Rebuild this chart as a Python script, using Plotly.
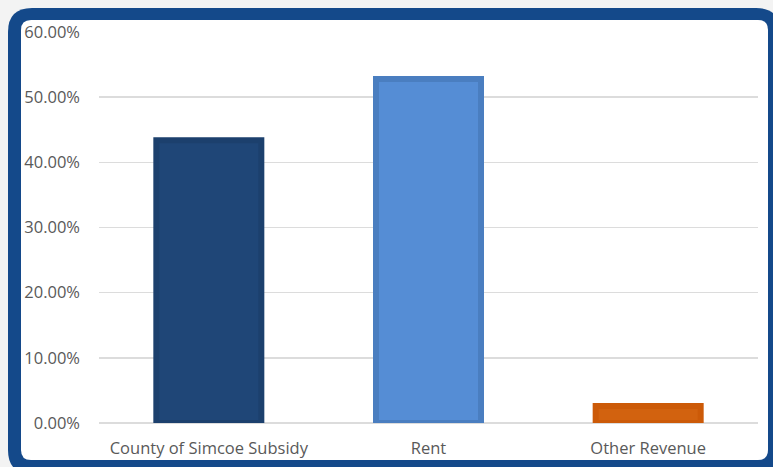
import plotly.graph_objects as go

categories = ["County of Simcoe Subsidy", "Rent", "Other Revenue"]
values = [0.434, 0.528, 0.026]
fill_colors = ["#1f4677", "#558dd5", "#d2620f"]
line_colors = ["#1c406d", "#4a7ec0", "#cc5a08"]
y_ticks = [0, 0.1, 0.2, 0.3, 0.4, 0.5, 0.6]

W, H = 773, 467


def px(x):
    return x / W


def py(y):
    return 1 - y / H


def rounded(x0, y0, x1, y1, r):
    pts = [
        f"M {px(x0 + r)},{py(y0)}",
        f"L {px(x1 - r)},{py(y0)}",
        f"Q {px(x1)},{py(y0)} {px(x1)},{py(y0 + r)}",
        f"L {px(x1)},{py(y1 - r)}",
        f"Q {px(x1)},{py(y1)} {px(x1 - r)},{py(y1)}",
        f"L {px(x0 + r)},{py(y1)}",
        f"Q {px(x0)},{py(y1)} {px(x0)},{py(y1 - r)}",
        f"L {px(x0)},{py(y0 + r)}",
        f"Q {px(x0)},{py(y0)} {px(x0 + r)},{py(y0)}",
        "Z",
    ]
    return " ".join(pts)


fig = go.Figure(
    go.Bar(
        x=categories,
        y=values,
        width=0.478,
        marker=dict(color=fill_colors, line=dict(color=line_colors, width=6)),
        hoverinfo="skip",
    )
)

fig.update_layout(
    template="none",
    width=W,
    height=H,
    margin=dict(l=0, r=0, t=0, b=0, autoexpand=False),
    paper_bgcolor="#f3f3f3",
    plot_bgcolor="rgba(0,0,0,0)",
    showlegend=False,
    font=dict(family="Open Sans", size=17, color="#595959"),
    shapes=[
        dict(type="path", xref="paper", yref="paper", path=rounded(8, 8, 780, 474, 24),
             fillcolor="#14498a", line=dict(width=0), layer="below"),
        dict(type="path", xref="paper", yref="paper", path=rounded(21, 20, 768, 460, 10),
             fillcolor="#ffffff", line=dict(width=0), layer="below"),
    ],
    xaxis=dict(
        domain=[px(99), px(758)],
        automargin=False,
        showgrid=False,
        showline=False,
        zeroline=False,
        ticks="",
        ticklabelstandoff=13,
        tickfont=dict(size=16.5, color="#595959"),
        fixedrange=True,
    ),
    yaxis=dict(
        domain=[py(423), py(32)],
        automargin=False,
        range=[0, 0.6],
        tickvals=y_ticks,
        tickformat=".2%",
        showgrid=True,
        gridcolor="#dcdcdc",
        gridwidth=1.5,
        zeroline=True,
        zerolinecolor="#dcdcdc",
        zerolinewidth=1.5,
        showline=False,
        ticks="",
        ticklabelstandoff=18,
        tickfont=dict(size=16.5, color="#595959"),
        fixedrange=True,
    ),
)

fig.write_html(
    "out.html",
    config={"displayModeBar": False, "staticPlot": True},
    post_script="document.body.style.margin='0';document.body.style.background='#f3f3f3';",
)
